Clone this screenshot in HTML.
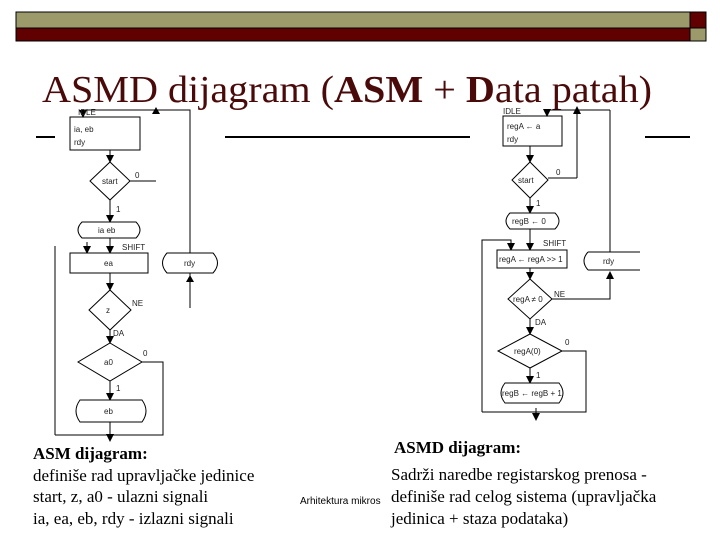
<!DOCTYPE html>
<html><head><meta charset="utf-8"><style>
body{margin:0;background:#fff}
svg{display:block}
.d{font-family:"Liberation Sans",sans-serif;font-size:8px;fill:#222}
.t{font-family:"Liberation Serif",serif;font-size:17px;fill:#000}
</style></head><body>
<svg width="720" height="540" viewBox="0 0 720 540" xmlns="http://www.w3.org/2000/svg">
<defs><marker id="a" viewBox="0 0 8 8" markerWidth="8" markerHeight="8" refX="7" refY="4" orient="auto" markerUnits="userSpaceOnUse"><path d="M0,0 L8,4 L0,8 Z" fill="#000"/></marker></defs>
<rect x="16" y="12" width="674" height="16" fill="#9c9a6b" stroke="#000" stroke-width="1"/>
<rect x="16" y="28" width="674" height="13" fill="#600000" stroke="#000" stroke-width="1"/>
<rect x="690" y="12" width="16" height="16" fill="#600000" stroke="#000" stroke-width="1"/>
<rect x="690" y="28" width="16" height="13" fill="#9c9a6b" stroke="#000" stroke-width="1"/>
<text x="42" y="102" font-family="Liberation Serif,serif" font-size="38" fill="#4a0a0a" textLength="610" lengthAdjust="spacingAndGlyphs">ASMD dijagram (<tspan font-weight="bold">ASM</tspan> + <tspan font-weight="bold">D</tspan>ata patah)</text>
<g stroke="#000" stroke-width="2"><line x1="36" y1="137" x2="55" y2="137"/><line x1="225" y1="137" x2="470" y2="137"/><line x1="645" y1="137" x2="690" y2="137"/></g>

<!-- LEFT DIAGRAM -->
<g fill="none" stroke="#000" stroke-width="1">
<rect x="70" y="117" width="70" height="33" fill="#fff"/>
<polyline points="190,308 190,110 83,110 83,117" marker-end="url(#a)"/>
<line x1="110" y1="150" x2="110" y2="162" marker-end="url(#a)"/>
<polygon points="110,162 130,181 110,200 90,181" fill="#fff"/>
<line x1="130" y1="181" x2="156" y2="181"/>
<line x1="110" y1="200" x2="110" y2="222" marker-end="url(#a)"/>
<path d="M82,222 H136 Q144,230 136,238 H82 Q74,230 82,222 Z" fill="#fff"/>
<line x1="110" y1="238" x2="110" y2="253" marker-end="url(#a)"/>
<line x1="87" y1="242" x2="87" y2="253" marker-end="url(#a)"/>
<rect x="70" y="253" width="78" height="20" fill="#fff"/>
<path d="M167,253 H213 Q222,263 213,273 H167 Q158,263 167,253 Z" fill="#fff"/>
<line x1="55" y1="246" x2="55" y2="435"/>
<line x1="110" y1="273" x2="110" y2="290" marker-end="url(#a)"/>
<polygon points="110,290 131,310 110,330 89,310" fill="#fff"/>
<line x1="110" y1="330" x2="110" y2="343" marker-end="url(#a)"/>
<polygon points="110,343 142,362 110,381 78,362" fill="#fff"/>
<polyline points="142,362 163,362 163,435 55,435"/>
<line x1="110" y1="381" x2="110" y2="400" marker-end="url(#a)"/>
<path d="M80,400 H142 Q150,411 142,422 H80 Q72,411 80,400 Z" fill="#fff"/>
<line x1="110" y1="422" x2="110" y2="441" marker-end="url(#a)"/>
</g>
<path d="M152,114 L156,107 L160,114 Z"/>
<path d="M186,282 L190,275 L194,282 Z"/>
<g class="d">
<text x="78" y="115">IDLE</text><text x="74" y="132">ia, eb</text><text x="74" y="145">rdy</text>
<text x="102" y="184">start</text><text x="135" y="178">0</text><text x="116" y="212">1</text>
<text x="98" y="233">ia eb</text><text x="122" y="250">SHIFT</text>
<text x="104" y="266">ea</text><text x="184" y="266">rdy</text>
<text x="106" y="313">z</text><text x="132" y="306">NE</text><text x="113" y="336">DA</text>
<text x="104" y="365">a0</text><text x="143" y="356">0</text><text x="116" y="391">1</text>
<text x="104" y="414">eb</text>
</g>

<!-- RIGHT DIAGRAM -->
<g fill="none" stroke="#000" stroke-width="1">
<rect x="503" y="116" width="59" height="30" fill="#fff"/>
<polyline points="577,178 577,110 547,110 547,116" marker-end="url(#a)"/>
<line x1="610" y1="110" x2="610" y2="252"/>
<line x1="577" y1="110" x2="610" y2="110"/>
<line x1="530" y1="146" x2="530" y2="162" marker-end="url(#a)"/>
<polygon points="530,162 548,180 530,198 512,180" fill="#fff"/>
<line x1="548" y1="178" x2="577" y2="178"/>
<line x1="530" y1="198" x2="530" y2="213" marker-end="url(#a)"/>
<path d="M510,213 H555 Q563,221 555,229 H510 Q502,221 510,213 Z" fill="#fff"/>
<line x1="530" y1="229" x2="530" y2="250" marker-end="url(#a)"/>
<polyline points="482,412 482,240 511,240 511,250" marker-end="url(#a)"/>
<rect x="497" y="250" width="70" height="18" fill="#fff"/>
<path d="M588,252 H640 M588,270 H640 M588,252 Q580,261 588,270"/>
<line x1="530" y1="268" x2="530" y2="279" marker-end="url(#a)"/>
<polygon points="530,279 552,299 530,319 508,299" fill="#fff"/>
<polyline points="552,299 610,299 610,272" marker-end="url(#a)"/>
<line x1="530" y1="319" x2="530" y2="334" marker-end="url(#a)"/>
<polygon points="530,334 562,351 530,368 498,351" fill="#fff"/>
<polyline points="562,351 586,351 586,412 482,412"/>
<line x1="530" y1="368" x2="530" y2="383" marker-end="url(#a)"/>
<path d="M505,383 H559 Q567,393 559,403 H505 Q497,393 505,383 Z" fill="#fff"/>
<line x1="536" y1="408" x2="536" y2="420" marker-end="url(#a)"/>
</g>
<path d="M573,114 L577,106 L581,114 Z"/>
<g class="d">
<text x="503" y="114">IDLE</text><text x="507" y="129">regA ← a</text><text x="507" y="142">rdy</text>
<text x="518" y="183">start</text><text x="556" y="175">0</text><text x="536" y="206">1</text>
<text x="512" y="224">regB ← 0</text><text x="543" y="246">SHIFT</text>
<text x="499" y="262">regA ← regA &gt;&gt; 1</text><text x="603" y="264">rdy</text>
<text x="513" y="302">regA ≠ 0</text><text x="554" y="297">NE</text><text x="535" y="325">DA</text>
<text x="514" y="354">regA(0)</text><text x="565" y="345">0</text><text x="536" y="378">1</text>
<text x="502" y="396">regB ← regB + 1</text>
</g>

<text class="t" x="33" y="459" font-weight="bold" font-size="18">ASM dijagram:</text>
<text class="t" x="33" y="481">definiše rad upravljačke jedinice</text>
<text class="t" x="33" y="502">start, z, a0 - ulazni signali</text>
<text class="t" x="33" y="524">ia, ea, eb, rdy - izlazni signali</text>
<text x="300" y="504" font-family="Liberation Sans,sans-serif" font-size="10" fill="#000">Arhitektura mikros</text>
<text class="t" x="394" y="453" font-weight="bold" font-size="18">ASMD dijagram:</text>
<text class="t" x="391" y="480">Sadrži naredbe registarskog prenosa -</text>
<text class="t" x="391" y="502">definiše rad celog sistema (upravljačka</text>
<text class="t" x="391" y="524">jedinica + staza podataka)</text>
</svg>
</body></html>
